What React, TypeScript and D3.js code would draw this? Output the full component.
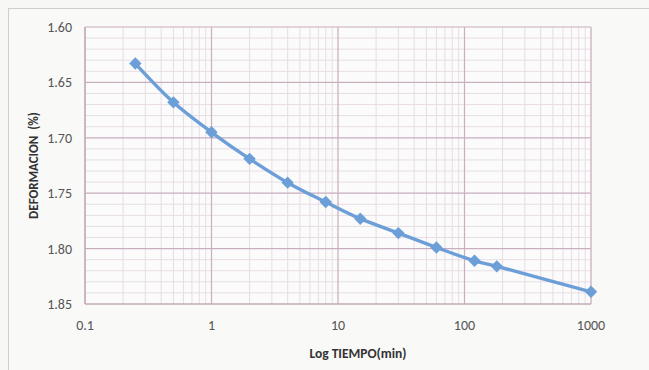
import React from "react";
import * as d3 from "d3";

const times = [0.25, 0.5, 1, 2, 4, 8, 15, 30, 60, 120, 180, 1000];
const deformation = [1.633, 1.668, 1.695, 1.719, 1.7405, 1.758, 1.773, 1.786, 1.799, 1.811, 1.816, 1.839];
const xTicks = [0.1, 1, 10, 100, 1000];
const xTickLabels = ["0.1", "1", "10", "100", "1000"];
const yTicks = [1.6, 1.65, 1.7, 1.75, 1.8, 1.85];
const yTickLabels = ["1.60", "1.65", "1.70", "1.75", "1.80", "1.85"];

const W = 649;
const H = 370;
const left = 85, right = 591, top = 27, bottom = 304;

export default function App() {
  const x = d3.scaleLog().domain([0.1, 1000]).range([left, right]);
  const y = d3.scaleLinear().domain([1.6, 1.85]).range([top, bottom]);

  const minorX: number[] = [];
  for (let e = -1; e < 3; e++) {
    for (let m = 2; m <= 9; m++) minorX.push(m * Math.pow(10, e));
  }
  const minorY: number[] = [];
  for (let i = 0; i <= 25; i++) {
    if (i % 5 !== 0) minorY.push(1.6 + i * 0.01);
  }

  const pts = times.map((t, i) => [x(t), y(deformation[i])] as [number, number]);
  const line = d3.line().curve(d3.curveCatmullRom.alpha(0.5))(pts) || "";
  const font = "Carlito, 'Liberation Sans', 'DejaVu Sans', sans-serif";
  const lineColor = "#6c9ed8";
  const ms = 6.2;

  return (
    <svg width={W} height={H} style={{ position: "absolute", left: 0, top: 0, background: "#f7f7f6" }}>
      <rect x={0} y={0} width={W} height={H} fill="#f7f7f6" />
      <rect x={8.5} y={8.5} width={W + 20} height={H + 20} fill="#f9f9f8" stroke="#cfcfcf" strokeWidth={1} />
      <rect x={left} y={top} width={right - left} height={bottom - top} fill="#fbfbfb" />
      {minorY.map((v, i) => (
        <line key={"my" + i} x1={left} x2={right} y1={y(v)} y2={y(v)} stroke="#e7dde3" strokeWidth={1} />
      ))}
      {minorX.map((v, i) => (
        <line key={"mx" + i} x1={x(v)} x2={x(v)} y1={top} y2={bottom} stroke="#e7dde3" strokeWidth={1} />
      ))}
      {yTicks.map((v, i) => (
        <line key={"gy" + i} x1={left} x2={right} y1={y(v)} y2={y(v)} stroke="#c9aebe" strokeWidth={1.2} />
      ))}
      {xTicks.map((v, i) => (
        <line key={"gx" + i} x1={x(v)} x2={x(v)} y1={top} y2={bottom} stroke="#c9aebe" strokeWidth={1.2} />
      ))}
      <line x1={left} x2={left} y1={top} y2={bottom} stroke="#bfa9b6" strokeWidth={1.2} />
      <line x1={right} x2={right} y1={top} y2={bottom} stroke="#d6c6cf" strokeWidth={1} />
      <line x1={left} x2={right} y1={bottom} y2={bottom} stroke="#bfa9b6" strokeWidth={1.2} />
      {yTicks.map((v, i) => (
        <text key={"yl" + i} x={72} y={y(v)} dy="0.35em" textAnchor="end" fontFamily={font} fontSize={14} fill="#555">
          {yTickLabels[i]}
        </text>
      ))}
      {xTicks.map((v, i) => (
        <text key={"xl" + i} x={x(v)} y={325} dy="0.35em" textAnchor="middle" fontFamily={font} fontSize={14} fill="#555">
          {xTickLabels[i]}
        </text>
      ))}
      <text x={358} y={353} dy="0.35em" textAnchor="middle" fontFamily={font} fontSize={13.5} fontWeight="bold" fill="#333">
        Log TIEMPO(min)
      </text>
      <text transform={`translate(33,${(top + bottom) / 2}) rotate(-90)`} dy="0.35em" textAnchor="middle" fontFamily={font} fontSize={13} fontWeight="bold" fill="#333" style={{ whiteSpace: "pre" }}>
        {"DEFORMACION\u00A0\u00A0(%)"}
      </text>
      <path d={line} fill="none" stroke={lineColor} strokeWidth={3.4} strokeLinejoin="round" />
      {pts.map(([px, py], i) => (
        <path key={"m" + i} d={`M${px},${py - ms}L${px + ms},${py}L${px},${py + ms}L${px - ms},${py}Z`} fill={lineColor} />
      ))}
    </svg>
  );
}
